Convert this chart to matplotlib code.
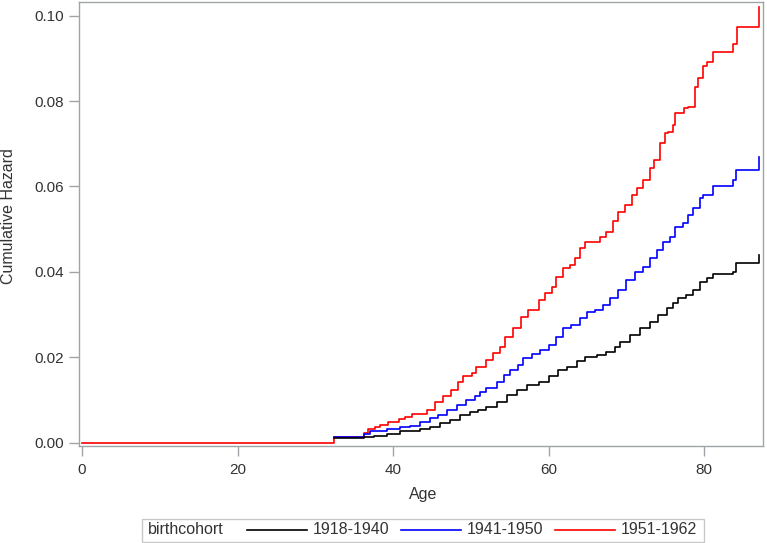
"""
Cumulative hazard by birth cohort (step curves), SAS-like styling.
Saves out.png.
"""

import matplotlib
matplotlib.use("Agg")
import matplotlib.pyplot as plt
from matplotlib.lines import Line2D
from matplotlib.patches import Rectangle


plt.rcParams["font.family"] = ["Liberation Sans", "DejaVu Sans"]

# --- data (steps-post) ---
AGE_1918 = [32.4, 36.2, 37.5, 39.2, 40.9, 42.2, 43.4, 44.7, 46.0, 47.3,
            48.6, 49.9, 50.9, 52.0, 53.3, 54.6, 55.9, 57.2, 58.7, 60.0,
            61.2, 62.3, 63.6, 64.7, 66.2, 67.4, 68.5, 69.2, 70.4, 71.7,
            73.0, 74.1, 75.2, 76.0, 76.6, 77.7, 78.6, 79.4, 80.3, 81.1,
            83.7, 84.1, 87.1]
HAZ_1918 = [0.0011, 0.0014, 0.0016, 0.0020, 0.0026, 0.0028, 0.0031, 0.0037, 0.0045, 0.0053,
            0.0064, 0.0072, 0.0077, 0.0084, 0.0096, 0.0112, 0.0123, 0.0135, 0.0143, 0.0155,
            0.0170, 0.0178, 0.0190, 0.0201, 0.0205, 0.0213, 0.0225, 0.0235, 0.0252, 0.0268,
            0.0283, 0.0299, 0.0315, 0.0326, 0.0338, 0.0346, 0.0358, 0.0377, 0.0385, 0.0394,
            0.0400, 0.0420, 0.0440]

AGE_1941 = [32.4, 36.3, 37.0, 39.2, 40.9, 42.2, 43.4, 44.7, 45.8, 46.9,
            48.2, 49.4, 50.5, 51.2, 52.0, 53.3, 54.2, 55.0, 56.1, 56.7,
            57.8, 58.9, 60.0, 61.0, 61.9, 62.9, 64.0, 64.9, 65.9, 67.0,
            67.9, 68.9, 70.0, 71.1, 72.1, 73.0, 73.9, 74.7, 75.6, 76.2,
            77.3, 77.9, 78.6, 79.4, 79.9, 81.1, 83.7, 84.1, 87.1]
HAZ_1941 = [0.0012, 0.0020, 0.0026, 0.0031, 0.0036, 0.0039, 0.0049, 0.0057, 0.0065, 0.0077,
            0.0088, 0.0100, 0.0108, 0.0118, 0.0127, 0.0143, 0.0159, 0.0170, 0.0182, 0.0198,
            0.0208, 0.0217, 0.0229, 0.0248, 0.0268, 0.0276, 0.0291, 0.0307, 0.0311, 0.0322,
            0.0338, 0.0358, 0.0381, 0.0400, 0.0412, 0.0432, 0.0451, 0.0471, 0.0482, 0.0506,
            0.0514, 0.0533, 0.0549, 0.0572, 0.0580, 0.0600, 0.0615, 0.0639, 0.0670]

AGE_1951 = [0.0, 32.4, 36.2, 36.8, 37.7, 38.3, 39.4, 40.7, 41.5, 42.4,
            44.3, 45.4, 46.4, 47.5, 48.4, 49.0, 50.1, 50.7, 52.0, 52.9,
            53.7, 54.4, 55.4, 56.5, 57.4, 58.7, 59.5, 60.4, 61.0, 61.9,
            62.7, 63.4, 64.0, 64.7, 66.6, 67.4, 68.3, 68.9, 69.8, 70.7,
            71.3, 72.1, 73.0, 73.6, 74.3, 74.9, 75.4, 76.0, 76.2, 77.4,
            77.9, 78.8, 79.2, 79.9, 80.3, 81.1, 83.7, 84.2, 87.05]
HAZ_1951 = [0.0, 0.0012, 0.0022, 0.0032, 0.0036, 0.0041, 0.0049, 0.0055, 0.0060, 0.0067,
            0.0077, 0.0096, 0.0108, 0.0123, 0.0143, 0.0155, 0.0162, 0.0178, 0.0194, 0.0209,
            0.0225, 0.0248, 0.0268, 0.0295, 0.0311, 0.0334, 0.0350, 0.0365, 0.0389, 0.0408,
            0.0416, 0.0432, 0.0455, 0.0471, 0.0482, 0.0494, 0.0518, 0.0541, 0.0557, 0.0580,
            0.0596, 0.0615, 0.0643, 0.0662, 0.0702, 0.0725, 0.0728, 0.0744, 0.0772, 0.0784,
            0.0787, 0.0834, 0.0854, 0.0883, 0.0892, 0.0914, 0.0934, 0.0973, 0.1020]

COHORTS = ["1918-1940", "1941-1950", "1951-1962"]
COLORS = ["#000000", "#0000ff", "#ff0000"]
X_TICKS = [0, 20, 40, 60, 80]
Y_TICKS = [0.00, 0.02, 0.04, 0.06, 0.08, 0.10]

TEXT = "#333333"
FRAME = "#a0a4a8"

W, H = 767, 543
fig = plt.figure(figsize=(W / 100, H / 100), dpi=100)
ax = fig.add_axes([79 / W, 1 - 446 / H, (763.3 - 79) / W, (446 - 2) / H])

series = [(AGE_1951, HAZ_1951, COLORS[2]),
          (AGE_1941, HAZ_1941, COLORS[1]),
          (AGE_1918, HAZ_1918, COLORS[0])]
for ages, haz, col in series:
    ax.plot(ages, haz, drawstyle="steps-post", color=col, lw=1.2)

ax.set_xlim(-0.4, 87.6)
ax.set_ylim(-0.0008, 0.1032)
ax.set_xticks(X_TICKS)
ax.set_yticks(Y_TICKS)
ax.set_yticklabels([f"{v:.2f}" for v in Y_TICKS])
ax.tick_params(colors=FRAME, labelcolor=TEXT, labelsize=11, length=7, width=1)
ax.tick_params(axis="x", pad=5)
for s in ax.spines.values():
    s.set_color(FRAME)
    s.set_linewidth(1)
ax.set_xlabel("Age", fontsize=11.5, color=TEXT)
ax.set_ylabel("Cumulative Hazard", fontsize=11.5, color=TEXT)
ax.xaxis.set_label_coords((423 - 79) / 684.3, (446 - 494) / 444)
ax.yaxis.set_label_coords((9 - 79) / 684.3, (446 - 216) / 444)
ax.xaxis.label.set_va("center")
ax.yaxis.label.set_va("center")

# legend box along the bottom
fy = lambda py: 1 - py / H
fig.patches.append(Rectangle((142 / W, fy(541.5)), (704 - 142) / W, (541.5 - 519) / H,
                             transform=fig.transFigure, fill=False,
                             edgecolor="#c8c8c8", lw=1))
fig.text(148 / W, fy(530), "birthcohort", fontsize=11.5, color=TEXT, va="center")
line_x = [(247, 307), (401, 461), (555, 615)]
for (x0, x1), col, lab in zip(line_x, COLORS, COHORTS):
    fig.lines.append(Line2D([x0 / W, x1 / W], [fy(530), fy(530)],
                            transform=fig.transFigure, color=col, lw=1.2))
    fig.text((x1 + 6) / W, fy(530), lab, fontsize=11.5, color=TEXT, va="center")

fig.savefig("out.png", dpi=100)
